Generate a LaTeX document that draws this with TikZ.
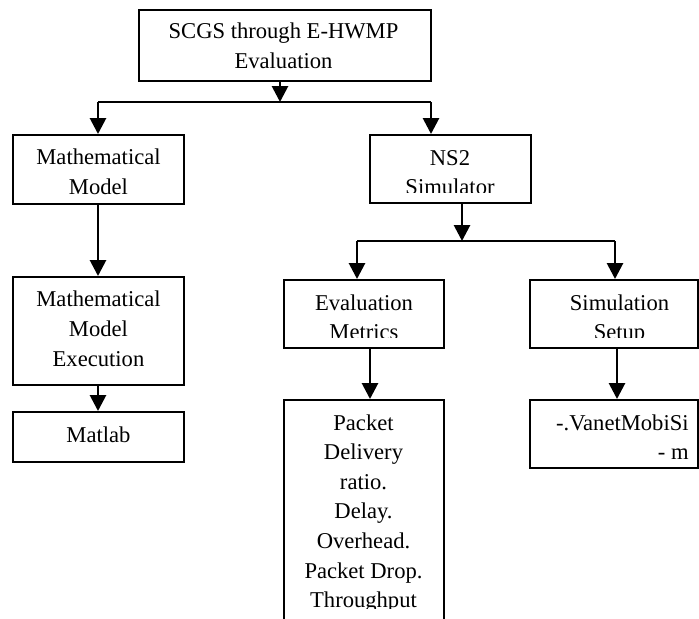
\documentclass[tikz,border=0pt]{standalone}
\usepackage{fontspec}
\setmainfont{Liberation Serif}
\usetikzlibrary{arrows.meta,fit}

\tikzset{
  box/.style={draw, line width=1pt, inner sep=0pt, rectangle},
  % anchor=base sits on the last line of a multi-line label
  label/.style={anchor=base, align=center, inner sep=0pt,
                font=\fontsize{11.3pt}{14.8pt}\selectfont},
  link/.style={line width=1.4pt},
  arr/.style={link, -{Triangle[length=8pt,width=8pt]}},
}

\begin{document}
\begin{tikzpicture}[x=0.5pt, y=-0.5pt]
  \clip (0,0) rectangle (699,618);
  \fill[white] (0,0) rectangle (699,618);

  % boxes
  \node[box, fit={(139,10) (431,81)}]   (top)    {};
  \node[box, fit={(13,135) (184,204)}]  (mm)     {};
  \node[box, fit={(370,135) (531,203)}] (ns2)    {};
  \node[box, fit={(13,277) (184,385)}]  (mme)    {};
  \node[box, fit={(13,412) (184,462)}]  (matlab) {};
  \node[box, fit={(284,280) (444,348)}] (eval)   {};
  \node[box, fit={(530,280) (698,348)}] (setup)  {};
  \node[box, fit={(284,400) (444,660)}] (packet) {};
  \node[box, fit={(530,400) (698,468)}] (vanet)  {};

  % box texts
  \node[label] (ttop) at (283.5,68) {SCGS through E-HWMP\\Evaluation};
  \node[label] (tmm)  at (98.5,194) {Mathematical\\Model};
  \node[label] (tmme) at (98.5,366) {Mathematical\\Model\\Execution};
  \node[label] (tmat) at (98.5,442) {Matlab};
  \begin{scope}
    \clip (370,135) rectangle (531,192);
    \node[label] (tns2) at (450,194.6) {NS2\\Simulator};
  \end{scope}
  \begin{scope}
    \clip (284,280) rectangle (444,337);
    \node[label] (teval) at (364,339.6) {Evaluation\\Metrics};
  \end{scope}
  \begin{scope}
    \clip (530,280) rectangle (698,337);
    \node[label] (tsetup) at (619.5,339.6) {Simulation\\Setup};
  \end{scope}
  \begin{scope}
    \clip (284,400) rectangle (444,608);
    \node[label] (tpacket) at (363.5,607.6)
      {Packet\\Delivery\\ratio.\\Delay.\\Overhead.\\Packet Drop.\\Throughput};
  \end{scope}
  \begin{scope}
    \clip (530,400) rectangle (698,458);
    \node[label, anchor=base east, align=right] (tvanet) at (689,459.6)
      {-.VanetMobiSi\\- m};
  \end{scope}

  % first branching
  \coordinate (b1)  at (280,102);
  \coordinate (b1l) at (98,102);
  \coordinate (b1r) at (431,102);
  \draw[arr] (b1 |- top.south) -- (b1);
  \draw[link] (b1l) -- (b1r);
  \draw[arr] (b1l) -- (b1l |- mm.north);
  \draw[arr] (b1r) -- (b1r |- ns2.north);

  % left column
  \coordinate (c1) at (98,300);
  \draw[arr] (c1 |- mm.south) -- (c1 |- mme.north);
  \draw[arr] (c1 |- mme.south) -- (c1 |- matlab.north);

  % second branching
  \coordinate (b2)  at (462,241);
  \coordinate (b2l) at (357,241);
  \coordinate (b2r) at (615,241);
  \draw[arr] (b2 |- ns2.south) -- (b2);
  \draw[link] (b2l) -- (b2r);
  \draw[arr] (b2l) -- (b2l |- eval.north);
  \draw[arr] (b2r) -- (b2r |- setup.north);

  % right columns
  \coordinate (c2) at (370,370);
  \coordinate (c3) at (617,370);
  \draw[arr] (c2 |- eval.south) -- (c2 |- packet.north);
  \draw[arr] (c3 |- setup.south) -- (c3 |- vanet.north);
\end{tikzpicture}
\end{document}
